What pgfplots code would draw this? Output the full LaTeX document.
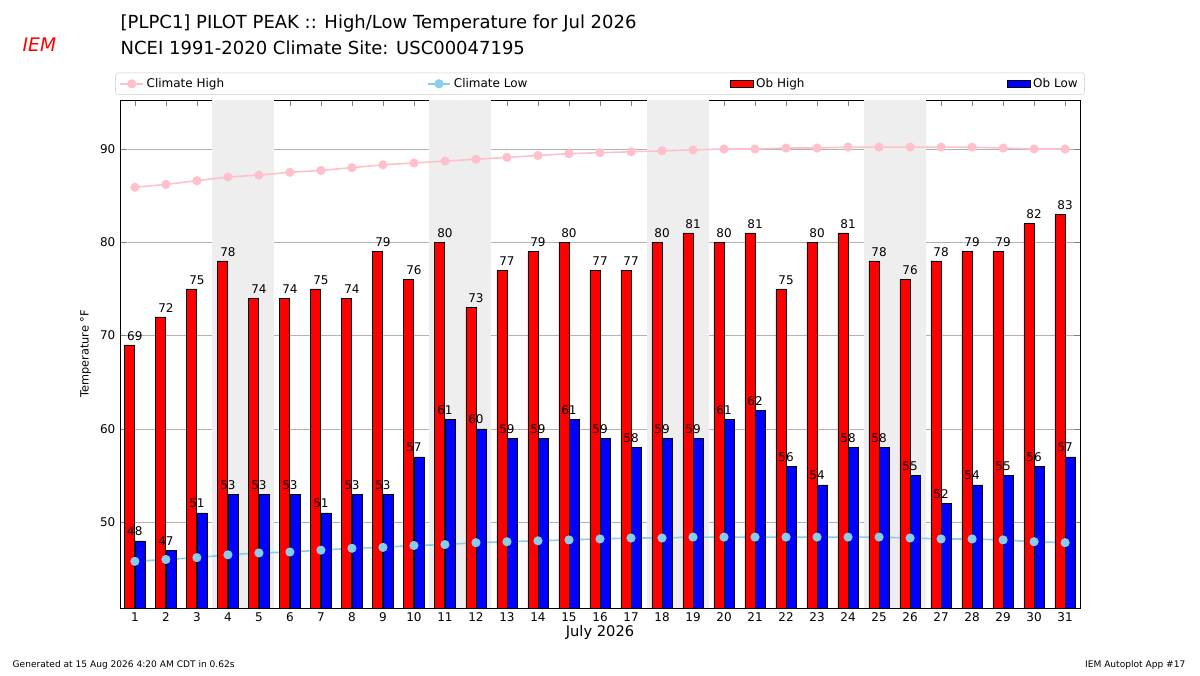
\documentclass[border=0pt]{standalone}
\usepackage{pgfplots}
\pgfplotsset{compat=1.18}
\usepackage{fontspec}
\setmainfont{DejaVu Sans}
\definecolor{chigh}{RGB}{255,192,203}
\definecolor{clow}{RGB}{135,206,235}
\begin{document}
\begin{tikzpicture}[x=0.75pt,y=0.75pt]
\path[use as bounding box] (0,0) rectangle (1200,675);
\node[anchor=west,font=\fontsize{13.5}{15}\selectfont] at (116,651) {[PLPC1] PILOT PEAK :: High/Low Temperature for Jul 2026};
\node[anchor=west,font=\fontsize{13.5}{15}\selectfont] at (116,627) {NCEI 1991-2020 Climate Site: USC00047195};
\node[anchor=west,font=\fontsize{14}{15}\selectfont\itshape,text=red] at (18,630) {IEM};
\node[anchor=west,font=\fontsize{6.8}{8}\selectfont] at (8,10) {Generated at 15 Aug 2026 4:20 AM CDT in 0.62s};
\node[anchor=east,font=\fontsize{6.8}{8}\selectfont] at (1190,10) {IEM Autoplot App \#17};
\begin{axis}[at={(120*0.75pt,67*0.75pt)},anchor=south west,
 scale only axis, width=720pt, height=381pt,
 xmin=0.52, xmax=31.48, ymin=40.8, ymax=95.25,
 xtick={1,...,31}, ytick={50,60,70,80,90},
 ymajorgrids, grid style={gray!60},
 tick label style={font=\fontsize{9}{10}\selectfont},
 /pgf/number format/assume math mode=true,
 xlabel={July 2026}, xlabel style={font=\fontsize{11}{12}\selectfont,yshift=4pt},
 ylabel={Temperature °F}, ylabel style={font=\fontsize{8.5}{10}\selectfont},
 legend style={at={(0.5,1.01)},anchor=south,legend columns=4,
   font=\fontsize{9}{10}\selectfont,draw=gray!40,rounded corners=2pt,
   /tikz/every even column/.append style={column sep=150pt}},
 legend cell align=left,
 nodes near coords style={font=\fontsize{9}{10}\selectfont,black},
]
\foreach \a in {3.5,10.5,17.5,24.5}{
 \edef\tmp{\noexpand\fill[gray!13] (axis cs:\a,40.8) rectangle (axis cs:\a+2,95.25);}\tmp}
\addplot[chigh,line width=1.2pt,mark=*,mark size=2.8pt] coordinates {(1,85.9)(2,86.2)(3,86.6)(4,87.0)(5,87.2)(6,87.5)(7,87.7)(8,88.0)(9,88.3)(10,88.5)(11,88.7)(12,88.9)(13,89.1)(14,89.3)(15,89.5)(16,89.6)(17,89.7)(18,89.8)(19,89.9)(20,90.0)(21,90.0)(22,90.1)(23,90.1)(24,90.2)(25,90.2)(26,90.2)(27,90.2)(28,90.2)(29,90.1)(30,90.0)(31,90.0)};
\addlegendentry{Climate High}
\addplot[clow,line width=1.2pt,mark=*,mark size=2.8pt] coordinates {(1,45.8)(2,46.0)(3,46.2)(4,46.5)(5,46.7)(6,46.8)(7,47.0)(8,47.2)(9,47.3)(10,47.5)(11,47.6)(12,47.8)(13,47.9)(14,48.0)(15,48.1)(16,48.2)(17,48.3)(18,48.3)(19,48.4)(20,48.4)(21,48.4)(22,48.4)(23,48.4)(24,48.4)(25,48.4)(26,48.3)(27,48.2)(28,48.2)(29,48.1)(30,47.9)(31,47.8)};
\addlegendentry{Climate Low}
\addplot[ybar,legend image code/.code={\draw[sharp corners,fill=red,draw=black] (0cm,-0.1cm) rectangle (0.6cm,0.1cm);},bar width=7.5pt,bar shift=-3.9pt,fill=red,draw=black,nodes near coords,point meta=explicit symbolic] table[meta index=1] {
x y
1 69
2 72
3 75
4 78
5 74
6 74
7 75
8 74
9 79
10 76
11 80
12 73
13 77
14 79
15 80
16 77
17 77
18 80
19 81
20 80
21 81
22 75
23 80
24 81
25 78
26 76
27 78
28 79
29 79
30 82
31 83
};
\addlegendentry{Ob High}
\addplot[ybar,legend image code/.code={\draw[sharp corners,fill=blue,draw=black] (0cm,-0.1cm) rectangle (0.6cm,0.1cm);},bar width=7.5pt,bar shift=3.9pt,fill=blue,draw=black,nodes near coords,point meta=explicit symbolic] table[meta index=1] {
x y
1 48
2 47
3 51
4 53
5 53
6 53
7 51
8 53
9 53
10 57
11 61
12 60
13 59
14 59
15 61
16 59
17 58
18 59
19 59
20 61
21 62
22 56
23 54
24 58
25 58
26 55
27 52
28 54
29 55
30 56
31 57
};
\addlegendentry{Ob Low}
\end{axis}
\end{tikzpicture}
\end{document}
